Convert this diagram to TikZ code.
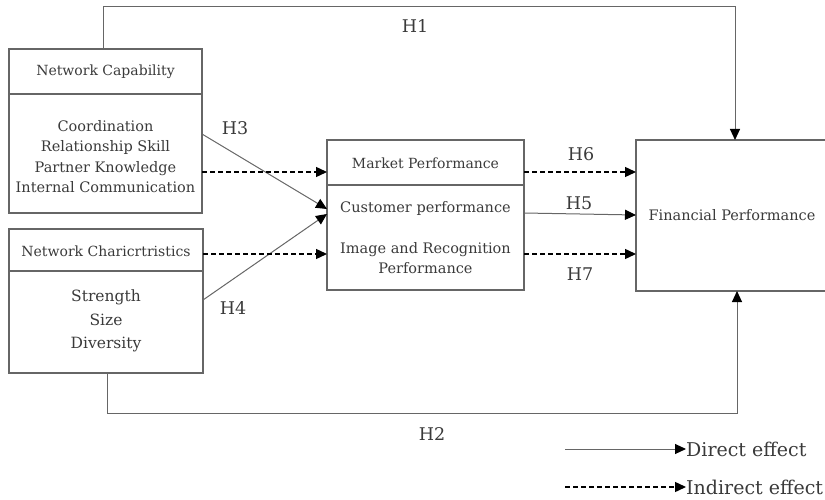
\documentclass[tikz,border=0pt]{standalone}
\usepackage{fontspec}
\setmainfont{DejaVu Serif}
\usetikzlibrary{arrows.meta}
\definecolor{ink}{HTML}{3A3A3A}
\definecolor{edge}{HTML}{666666}
\begin{document}
\begin{tikzpicture}[x=1pt,y=-1pt,
  box/.style={draw=edge,line width=1.1pt,inner sep=0pt,outer sep=0pt},
  title/.style={text=ink,inner sep=0pt,font=\fontsize{14}{16}\selectfont},
  body/.style={text=ink,align=center,inner sep=0pt,font=\fontsize{14.5}{20.3}\selectfont},
  bigbody/.style={text=ink,align=center,inner sep=0pt,font=\fontsize{15.5}{23.5}\selectfont},
  hyp/.style={text=ink,inner sep=0pt,font=\fontsize{17.5}{19}\selectfont},
  legend/.style={text=ink,inner sep=0pt,font=\fontsize{19}{21}\selectfont},
  direct/.style={draw=edge,line width=1pt,-{Triangle[length=11pt,width=10pt,color=black]}},
  indirect/.style={draw=black,line width=1.4pt,dash pattern=on 5pt off 3pt,-{Triangle[length=11pt,width=10pt]}},
]
\useasboundingbox (0,0) rectangle (825,500);

% construct boxes
\node[box,minimum width=193pt,minimum height=164pt] (nc)  at (105.5,131) {};
\node[box,minimum width=194pt,minimum height=144pt] (nch) at (106,301) {};
\node[box,minimum width=197pt,minimum height=150pt] (mp)  at (425.5,215) {};
\node[box,minimum width=190pt,minimum height=151pt] (fp)  at (731,215.5) {};

% header dividers
\draw[edge,line width=1.1pt] (nc.west |- 0,94) -- (nc.east |- 0,94);
\draw[edge,line width=1.1pt] (nch.west |- 0,271) -- (nch.east |- 0,271);
\draw[edge,line width=1.1pt] (mp.west |- 0,185) -- (mp.east |- 0,185);

% box texts
\node[title] (nct) at (105.5,72) {Network Capability};
\node[body] (ncb) at (105.5,156.5) {Coordination\\Relationship Skill\\Partner Knowledge\\Internal Communication};
\node[title] (ncht) at (106,251) {Network Charicrtristics};
\node[bigbody] (nchb) at (106,321) {Strength\\Size\\Diversity};
\node[title] (mpt) at (425.5,163) {Market Performance};
\node[body] (mpc) at (425.5,208) {Customer performance};
\node[body] (mpi) at (425.5,258) {Image and Recognition\\Performance};
\node[body] (fpt) at (732,215) {Financial Performance};

% bends of the outer paths
\coordinate (h1a) at (103,7);
\coordinate (h1b) at (735,7);
\coordinate (h2a) at (107,413);
\coordinate (h2b) at (737,413);

% direct effects
\draw[direct] (nc.north -| h1a) -- (h1a) -- (h1b) -- (fp.north -| h1b);
\draw[direct] (nch.south -| h2a) -- (h2a) -- (h2b) -- (fp.south -| h2b);
\draw[direct] (nc.east |- 0,134) -- (mp.west |- 0,209);
\draw[direct] (nch.east |- 0,300) -- (mp.west |- 0,214);
\draw[direct] (mp.east |- 0,213) -- (fp.west |- 0,215);

% indirect effects
\draw[indirect] (nc.east |- 0,172) -- (mp.west |- 0,172);
\draw[indirect] (nch.east |- 0,254) -- (mp.west |- 0,254);
\draw[indirect] (mp.east |- 0,172) -- (fp.west |- 0,172);
\draw[indirect] (mp.east |- 0,254) -- (fp.west |- 0,254);

% hypothesis labels
\node[hyp] (H1) at (415,26) {H1};
\node[hyp] (H2) at (432,434) {H2};
\node[hyp] (H3) at (235,128) {H3};
\node[hyp] (H4) at (233,308) {H4};
\node[hyp] (H5) at (579,203) {H5};
\node[hyp] (H6) at (581,154) {H6};
\node[hyp] (H7) at (580,274) {H7};

% legend
\coordinate (l1) at (565,449);
\coordinate (l2) at (565,487);
\node[legend,anchor=west] (ld) at (686,449) {Direct effect};
\node[legend,anchor=west] (li) at (686,487) {Indirect effect};
\draw[direct] (l1) -- (ld.west);
\draw[indirect] (l2) -- (li.west);
\end{tikzpicture}
\end{document}
